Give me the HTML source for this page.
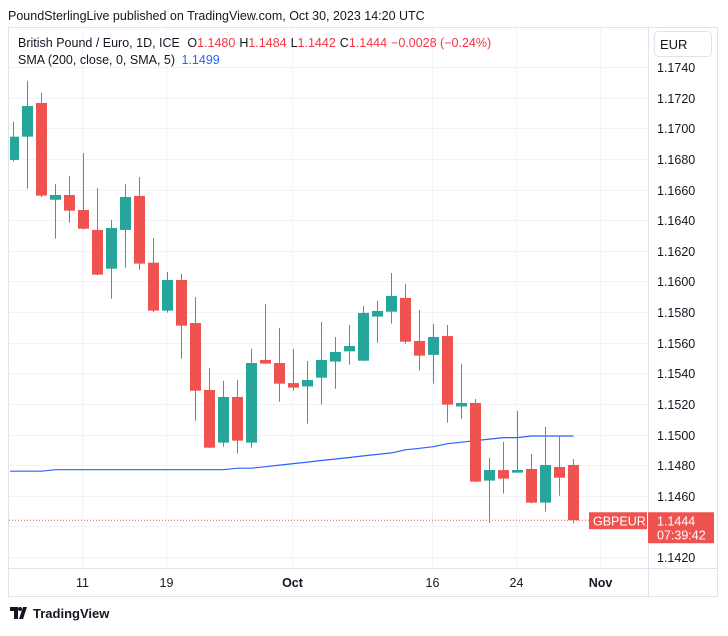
<!DOCTYPE html>
<html><head><meta charset="utf-8"><style>
body{margin:0;background:#fff;font-family:"Liberation Sans",sans-serif;}
svg text{font-family:"Liberation Sans",sans-serif;}
</style></head><body>
<svg id="c" width="728" height="631" xmlns="http://www.w3.org/2000/svg">
<rect x="0" y="0" width="728" height="631" fill="#fff"/>
<text x="8" y="20" font-size="12.5" fill="#131722">PoundSterlingLive published on TradingView.com, Oct 30, 2023 14:20 UTC</text>
<rect x="8.5" y="27.5" width="709" height="569" fill="none" stroke="#e0e3eb"/>
<g id="grid"></g>
<g id="sma"></g>
<g id="candles"></g>
<line x1="648.5" y1="28" x2="648.5" y2="596" stroke="#e0e3eb"/>
<line x1="9" y1="568.5" x2="717" y2="568.5" stroke="#e0e3eb"/>
<g id="yax"></g>
<g id="xax"></g>
<rect x="654.5" y="31.5" width="57" height="25" rx="4" fill="#fff" stroke="#e0e3eb"/>
<text x="660" y="49" font-size="13" fill="#131722">EUR</text>
<text x="18" y="47" font-size="12.5" fill="#131722">British Pound / Euro, 1D, ICE <tspan dx="4">O</tspan><tspan fill="#f23645">1.1480</tspan><tspan dx="4">H</tspan><tspan fill="#f23645">1.1484</tspan><tspan dx="4">L</tspan><tspan fill="#f23645">1.1442</tspan><tspan dx="4">C</tspan><tspan fill="#f23645">1.1444</tspan><tspan dx="4" fill="#f23645">−0.0028 (−0.24%)</tspan></text>
<text x="18" y="64" font-size="12.5" fill="#131722">SMA (200, close, 0, SMA, 5) <tspan dx="3" fill="#2962ff">1.1499</tspan></text>
<g id="lastp"></g>
<g>
<path d="M10 607 h8 v12 h-4 v-8 h-4 z M19 619 l4 -12 h4 l-4 12 z" fill="#131722"/>
<circle cx="20" cy="609" r="2" fill="#131722"/>
<text x="33" y="618" font-size="13" font-weight="bold" fill="#131722">TradingView</text>
</g>
</svg>
<script>
const opens  =[1.16793,1.16945,1.17165,1.16533,1.16564,1.16466,1.16336,1.16083,1.16336,1.16558,1.16122,1.15809,1.16009,1.15728,1.15291,1.14947,1.15245,1.14947,1.15487,1.15467,1.15336,1.15314,1.15371,1.15476,1.15543,1.15482,1.15770,1.15802,1.15892,1.15611,1.15520,1.15643,1.15183,1.15206,1.14699,1.14768,1.14751,1.14775,1.14555,1.14788,1.14801];
const highs  =[1.17043,1.17309,1.17230,1.16636,1.16688,1.16838,1.16610,1.16401,1.16636,1.16682,1.16283,1.16061,1.16048,1.15898,1.15434,1.15350,1.15356,1.15559,1.15852,1.15696,1.15559,1.15480,1.15735,1.15637,1.15715,1.15839,1.15872,1.16055,1.15983,1.15813,1.15722,1.15715,1.15461,1.15232,1.14847,1.14951,1.15154,1.14873,1.15051,1.14992,1.14840];
const lows   =[1.16782,1.16605,1.16550,1.16279,1.16383,1.16340,1.16040,1.15887,1.16090,1.16076,1.15800,1.15796,1.15495,1.15090,1.14910,1.14921,1.14875,1.14914,1.15460,1.15214,1.15286,1.15071,1.15195,1.15299,1.15456,1.15480,1.15598,1.15724,1.15593,1.15417,1.15332,1.15077,1.15103,1.14690,1.14424,1.14614,1.14750,1.14550,1.14496,1.14600,1.14420];
const closes =[1.16945,1.17145,1.16560,1.16564,1.16462,1.16344,1.16044,1.16349,1.16551,1.16116,1.15809,1.16009,1.15711,1.15286,1.14914,1.15245,1.14960,1.15467,1.15463,1.15332,1.15306,1.15356,1.15487,1.15539,1.15578,1.15794,1.15807,1.15905,1.15606,1.15515,1.15637,1.15195,1.15206,1.14692,1.14768,1.14712,1.14768,1.14555,1.14801,1.14718,1.14440];
const smaValues=[1.1476,1.1476,1.1476,1.1477,1.1477,1.1477,1.1477,1.1477,1.1477,1.1477,1.1477,1.1477,1.1477,1.1477,1.1477,1.1477,1.1478,1.1478,1.1479,1.1480,1.1481,1.1482,1.1483,1.1484,1.1485,1.1486,1.1487,1.1488,1.1490,1.1491,1.1492,1.1494,1.1495,1.1496,1.1497,1.1498,1.1498,1.1499,1.1499,1.1499,1.1499];
const priceTicks=[1.1740,1.1720,1.1700,1.1680,1.1660,1.1640,1.1620,1.1600,1.1580,1.1560,1.1540,1.1520,1.1500,1.1480,1.1460,1.1440,1.1420];
const timeTickIdx=[5,11,20,30,36,42];
const timeTickLabels=["11","19","Oct","16","24","Nov"];
const lastLabel=["1.1444","07:39:42"];

const NS="http://www.w3.org/2000/svg";
function yS(p){return 67+(1.1740-p)/0.002*30.625;}
function xS(i){return 13.5+i*14.0;}
function mk(tag,attrs,parent){const e=document.createElementNS(NS,tag);for(const k in attrs)e.setAttribute(k,attrs[k]);parent.appendChild(e);return e;}
const grid=document.getElementById('grid'),cg=document.getElementById('candles'),yax=document.getElementById('yax'),xax=document.getElementById('xax');
priceTicks.forEach(p=>{
  const y=Math.round(yS(p))+0.5;
  const l=mk('line',{x1:9,x2:648,y1:y,y2:y,stroke:'#f0f3fa'},grid);
  
  
  const t=mk('text',{x:657,y:y+4.5,'font-size':12.5,fill:'#131722'},yax);
  t.textContent=p.toFixed(4);
  
  
});
timeTickIdx.forEach((i,k)=>{
  const x=Math.round(xS(i))-1.5;
  const l=mk('line',{x1:x,x2:x,y1:28,y2:568,stroke:'#f0f3fa'},grid);
  
  
  const lab=timeTickLabels[k];
  const t=mk('text',{x:x,y:587,'font-size':12.5,'text-anchor':'middle',fill:'#131722','font-weight':(lab==='Oct'||lab==='Nov')?'bold':'normal'},xax);
  t.textContent=lab;
  
  
});
// SMA
let d='';smaValues.forEach((v,i)=>{d+=(i?'L':'M')+(i===0?10:xS(i)).toFixed(1)+' '+yS(v).toFixed(1)+' ';});
const sl=mk('path',{d:d,fill:'none',stroke:'#2962ff','stroke-width':1.2},document.getElementById('sma'));


// candles
opens.forEach((o,i)=>{
  const c=closes[i],up=c>=o,col=up?'#26a69a':'#ef5350';
  const x=xS(i);
  const w=mk('line',{x1:x,x2:x,y1:yS(highs[i]),y2:yS(lows[i]),stroke:col,'stroke-width':1},cg);
  
  
  const top=yS(Math.max(o,c)),bot=yS(Math.min(o,c));
  let bx=x-5.5,bw=11;if(i===0){bx=10;bw=x+5.5-10;}
  const b=mk('rect',{x:bx,y:top,width:bw,height:Math.max(1,bot-top),fill:col},cg);
  
  
});
// last price
const lp=document.getElementById('lastp');
const ly=yS(closes[closes.length-1]);
const dl=mk('line',{x1:9,x2:648,y1:ly,y2:ly,stroke:'#ef5350','stroke-dasharray':'1 2'},lp);


const r1=mk('rect',{x:589,y:ly-8,width:58,height:17,fill:'#ef5350'},lp);


const t1=mk('text',{x:593,y:ly+5,'font-size':12.5,fill:'#fff'},lp);t1.textContent='GBPEUR';


const r2=mk('rect',{x:648,y:ly-8,width:66,height:31,fill:'#ef5350'},lp);


const t2=mk('text',{x:657,y:ly+5,'font-size':12.5,fill:'#fff'},lp);t2.textContent=lastLabel[0];


const t3=mk('text',{x:657,y:ly+19,'font-size':12.5,fill:'#fff'},lp);t3.textContent=lastLabel[1];


</script>
</body></html>
